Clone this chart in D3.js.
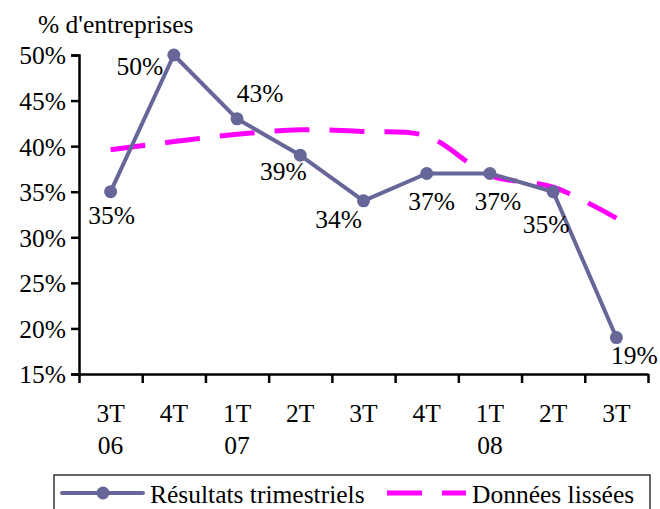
<!DOCTYPE html>
<html>
<head>
<meta charset="utf-8">
<script src="https://cdn.jsdelivr.net/npm/d3@7"></script>
<style>
  html, body { margin: 0; padding: 0; background: #fff; }
  svg { display: block; }
  text { font-family: "Liberation Serif", "Times New Roman", serif; fill: #000; }
</style>
</head>
<body>
<svg id="chart" width="660" height="509"></svg>
<script>
// Quarters (two-line tick labels)
const quarters = ["3T", "4T", "1T", "2T", "3T", "4T", "1T", "2T", "3T"];
const years    = ["06", "", "07", "", "", "", "08", "", ""];

// Quarterly results (share of firms) and the smoothed series
const quarterly = [0.35, 0.50, 0.43, 0.39, 0.34, 0.37, 0.37, 0.35, 0.19];
const smoothed  = [0.396, 0.405, 0.413, 0.418, 0.416, 0.411, 0.368, 0.355, 0.321];

const yTicks = [0.15, 0.20, 0.25, 0.30, 0.35, 0.40, 0.45, 0.50];

const seriesNames = ["Résultats trimestriels", "Données lissées"];

// Label placement around each point (dx to label centre, dy to baseline)
const labelOffsets = [
  [1, 32], [-34, 20], [23, -17], [-17, 25], [-25, 27],
  [5, 37], [8, 37], [-7, 41], [18, 26]
];

const lineColor = "#666699";
const smoothColor = "#ff00ff";
const fontSize = 25.5;

const svg = d3.select("#chart");
const plot = { left: 79, right: 648, top: 55, bottom: 374 };

const idx = d3.range(quarters.length);
const x = d3.scaleBand().domain(idx).range([plot.left, plot.right]).padding(0);
const cx = i => x(i) + x.bandwidth() / 2;
const y = d3.scaleLinear().domain([0.15, 0.50]).range([plot.bottom, plot.top]);

// Y axis
const yAxis = svg.append("g")
  .attr("transform", `translate(${plot.left},0)`)
  .call(d3.axisLeft(y).tickValues(yTicks).tickFormat(d3.format(".0%")).tickSize(8).tickPadding(5));
yAxis.select(".domain").attr("stroke", "#000").attr("stroke-width", 2.5);
yAxis.selectAll(".tick line").attr("stroke", "#000").attr("stroke-width", 2.5);
yAxis.selectAll(".tick text")
  .style("font-family", "Liberation Serif, serif")
  .style("font-size", fontSize + "px")
  .attr("fill", "#000")
  .attr("dy", "0.35em");

// X axis: ticks at category boundaries
const xEdge = d3.scaleLinear().domain([0, quarters.length]).range([plot.left, plot.right]);
const xAxis = svg.append("g")
  .attr("transform", `translate(0,${plot.bottom})`)
  .call(d3.axisBottom(xEdge).tickValues(d3.range(quarters.length + 1)).tickFormat("").tickSize(9).tickSizeOuter(0));
xAxis.select(".domain").attr("stroke", "#000").attr("stroke-width", 2.5);
xAxis.selectAll(".tick line").attr("stroke", "#000").attr("stroke-width", 2.5);

const catLabels = svg.append("g");
idx.forEach(i => {
  catLabels.append("text")
    .attr("x", cx(i)).attr("y", 422)
    .attr("text-anchor", "middle")
    .style("font-size", fontSize + "px")
    .text(quarters[i]);
  if (years[i]) {
    catLabels.append("text")
      .attr("x", cx(i)).attr("y", 454)
      .attr("text-anchor", "middle")
      .style("font-size", fontSize + "px")
      .text(years[i]);
  }
});

// Axis title
svg.append("text")
  .attr("x", 38).attr("y", 33)
  .style("font-size", fontSize + "px")
  .text("% d'entreprises");

// Smoothed series (dashed)
const smoothLine = d3.line()
  .x((d, i) => cx(i))
  .y(d => y(d))
  .curve(d3.curveCatmullRom.alpha(0.5));
svg.append("path")
  .datum(smoothed)
  .attr("d", smoothLine)
  .attr("fill", "none")
  .attr("stroke", smoothColor)
  .attr("stroke-width", 5)
  .attr("stroke-dasharray", "35,20");

// Quarterly series
const mainLine = d3.line().x((d, i) => cx(i)).y(d => y(d));
svg.append("path")
  .datum(quarterly)
  .attr("d", mainLine)
  .attr("fill", "none")
  .attr("stroke", lineColor)
  .attr("stroke-width", 4)
  .attr("stroke-linejoin", "round");

svg.append("g").selectAll("circle")
  .data(quarterly)
  .join("circle")
  .attr("cx", (d, i) => cx(i))
  .attr("cy", d => y(d))
  .attr("r", 6.5)
  .attr("fill", lineColor);

// Value labels
svg.append("g").selectAll("text")
  .data(quarterly)
  .join("text")
  .attr("x", (d, i) => cx(i) + labelOffsets[i][0])
  .attr("y", (d, i) => y(d) + labelOffsets[i][1])
  .attr("text-anchor", "middle")
  .style("font-size", fontSize + "px")
  .text(d => d3.format(".0%")(d));

// Legend
const legend = svg.append("g");
legend.append("rect")
  .attr("x", 54).attr("y", 475)
  .attr("width", 596).attr("height", 60)
  .attr("fill", "#fff")
  .attr("stroke", "#000")
  .attr("stroke-width", 1.2);
legend.append("line")
  .attr("x1", 62).attr("x2", 143).attr("y1", 493).attr("y2", 493)
  .attr("stroke", lineColor).attr("stroke-width", 4).attr("stroke-linecap", "round");
legend.append("circle")
  .attr("cx", 103).attr("cy", 493).attr("r", 6.5).attr("fill", lineColor);
legend.append("text")
  .attr("x", 150).attr("y", 503)
  .style("font-size", fontSize + "px")
  .text(seriesNames[0]);
legend.append("line")
  .attr("x1", 387).attr("x2", 466).attr("y1", 493).attr("y2", 493)
  .attr("stroke", smoothColor).attr("stroke-width", 5)
  .attr("stroke-dasharray", "35,20");
legend.append("text")
  .attr("x", 472).attr("y", 503)
  .style("font-size", fontSize + "px")
  .text(seriesNames[1]);
</script>
</body>
</html>
